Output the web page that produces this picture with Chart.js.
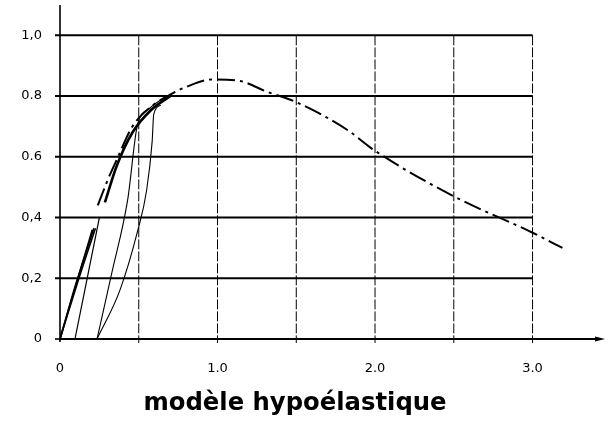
<!DOCTYPE html>
<html lang="fr">
<head>
  <meta charset="UTF-8">
  <title>modèle hypoélastique</title>
  <style>
    body {
      margin: 0;
      background: #fff;
    }
    #chart {
      display: block;
    }
  </style>
</head>
<body>
  <canvas id="chart" width="608" height="443"></canvas>

  <script src="https://cdn.jsdelivr.net/npm/chart.js"></script>
  <script>
    // tick positions and labels
    const xTickValues = [0, 1, 2, 3];
    const xTickLabels = ['0', '1.0', '2.0', '3.0'];
    const yTickValues = [0, 0.2, 0.4, 0.6, 0.8, 1.0];
    const yTickLabels = ['0', '0,2', '0,4', '0.6', '0.8', '1,0'];
    const xGridValues = [0.5, 1.0, 1.5, 2.0, 2.5, 3.0];
    const yGridValues = [0.2, 0.4, 0.6, 0.8, 1.0];

    // envelope (dash-dot)
    const envX = [0.24, 0.30, 0.36, 0.46, 0.59, 0.70, 0.80, 0.97, 1.14, 1.31, 1.50, 1.82, 2.00, 2.50, 3.00, 3.19];
    const envY = [0.44, 0.52, 0.59, 0.70, 0.77, 0.805, 0.83, 0.855, 0.85, 0.815, 0.78, 0.69, 0.62, 0.47, 0.35, 0.30];

    // first small cycles from the origin
    const cyc1aX = [0, 0.10, 0.215];
    const cyc1aY = [0, 0.18, 0.365];
    const cyc1bX = [0, 0.12, 0.225];
    const cyc1bY = [0, 0.20, 0.365];
    const cyc1cX = [0, 0.205];
    const cyc1cY = [0, 0.36];
    const cyc1dX = [0.095, 0.25];
    const cyc1dY = [0, 0.40];

    // reloading branch back onto the envelope (thick)
    const reloadX = [0.285, 0.36, 0.46, 0.58, 0.70];
    const reloadY = [0.45, 0.57, 0.68, 0.755, 0.80];

    // second cycle: straight branch and curved branch from 0.235
    const cyc2aX = [0.235, 0.33, 0.43, 0.49, 0.57, 0.68];
    const cyc2aY = [0, 0.22, 0.46, 0.70, 0.76, 0.80];
    const cyc2bX = [0.235, 0.38, 0.49, 0.55, 0.585, 0.595, 0.64];
    const cyc2bY = [0, 0.16, 0.35, 0.49, 0.65, 0.74, 0.77];

    const X_MAX = 3.46;
    const Y_MAX = 1.1;

    function pts(xs, ys) {
      return xs.map((x, i) => ({ x: x, y: ys[i] }));
    }

    function curve(xs, ys, width, tension, dash) {
      return {
        data: pts(xs, ys),
        showLine: true,
        borderColor: '#000',
        borderWidth: width,
        borderDash: dash || [],
        pointRadius: 0,
        fill: false,
        tension: tension,
        cubicInterpolationMode: 'monotone'
      };
    }

    // grid, axes and tick marks drawn only over the 0..3 / 0..1 range
    const framePlugin = {
      id: 'frame',
      beforeDatasetsDraw(chart) {
        const ctx = chart.ctx;
        const xs = chart.scales.x;
        const ys = chart.scales.y;
        const x0 = xs.getPixelForValue(0);
        const x3 = xs.getPixelForValue(3);
        const y0 = ys.getPixelForValue(0);
        const y1 = ys.getPixelForValue(1);
        ctx.save();
        ctx.strokeStyle = '#000';

        ctx.lineWidth = 2;
        yGridValues.forEach(v => {
          const y = ys.getPixelForValue(v);
          ctx.beginPath();
          ctx.moveTo(x0 - 5, y);
          ctx.lineTo(x3, y);
          ctx.stroke();
        });

        ctx.lineWidth = 1;
        ctx.setLineDash([10, 2]);
        xGridValues.forEach(v => {
          const x = xs.getPixelForValue(v);
          ctx.beginPath();
          ctx.moveTo(x, y1);
          ctx.lineTo(x, y0 + 4);
          ctx.stroke();
        });
        ctx.setLineDash([]);

        // y axis
        ctx.lineWidth = 1.6;
        ctx.beginPath();
        ctx.moveTo(x0, y0 + 3);
        ctx.lineTo(x0, ys.getPixelForValue(Y_MAX));
        ctx.stroke();
        ctx.beginPath();
        ctx.moveTo(x0 - 5, y0);
        ctx.lineTo(x0, y0);
        ctx.stroke();

        // x axis with arrow
        const xEnd = xs.getPixelForValue(X_MAX);
        ctx.lineWidth = 2;
        ctx.beginPath();
        ctx.moveTo(x0, y0);
        ctx.lineTo(xEnd - 6, y0);
        ctx.stroke();
        ctx.fillStyle = '#000';
        ctx.beginPath();
        ctx.moveTo(xEnd, y0);
        ctx.lineTo(xEnd - 10, y0 - 2.5);
        ctx.lineTo(xEnd - 10, y0 + 2.5);
        ctx.closePath();
        ctx.fill();
        ctx.restore();
      },
      afterDraw(chart) {
        const ctx = chart.ctx;
        const text = 'modèle hypoélastique';
        ctx.save();
        ctx.font = 'bold 20px "DejaVu Sans"';
        const size = 20 * 303 / ctx.measureText(text).width;
        ctx.font = 'bold ' + size.toFixed(1) + 'px "DejaVu Sans"';
        ctx.fillStyle = '#000';
        ctx.textAlign = 'center';
        ctx.textBaseline = 'middle';
        ctx.fillText(text, 295, 404);
        ctx.restore();
      }
    };

    new Chart(document.getElementById('chart'), {
      type: 'scatter',
      data: {
        datasets: [
          curve(envX, envY, 2, 0.4, [18, 5, 3, 5]),
          curve(cyc1aX, cyc1aY, 1.6, 0.3),
          curve(cyc1bX, cyc1bY, 1.6, 0.3),
          curve(cyc1cX, cyc1cY, 1.6, 0),
          curve(cyc1dX, cyc1dY, 1.2, 0),
          curve(reloadX, reloadY, 2.6, 0.4),
          curve(cyc2aX, cyc2aY, 1.1, 0.4),
          curve(cyc2bX, cyc2bY, 1.1, 0.4)
        ]
      },
      options: {
        responsive: false,
        animation: false,
        layout: { padding: { left: 0, right: 3, top: 5, bottom: 0 } },
        plugins: {
          legend: { display: false },
          tooltip: { enabled: false }
        },
        scales: {
          x: {
            type: 'linear',
            min: 0,
            max: X_MAX,
            grid: { display: false, drawTicks: false },
            border: { display: false },
            afterBuildTicks: s => { s.ticks = xTickValues.map(v => ({ value: v })); },
            afterFit: s => { s.height = 104; },
            ticks: {
              padding: 22,
              color: '#000',
              maxRotation: 0,
              font: { family: 'DejaVu Sans', size: 13 },
              callback: v => xTickLabels[xTickValues.indexOf(v)]
            }
          },
          y: {
            type: 'linear',
            min: 0,
            max: Y_MAX,
            grid: { display: false, drawTicks: false },
            border: { display: false },
            afterBuildTicks: s => { s.ticks = yTickValues.map(v => ({ value: v })); },
            afterFit: s => {
              s.width = 60;
              s.paddingTop = 0;
              s.paddingBottom = 0;
            },
            ticks: {
              padding: 18,
              color: '#000',
              font: { family: 'DejaVu Sans', size: 13 },
              callback: v => yTickLabels[yTickValues.findIndex(t => Math.abs(t - v) < 1e-9)]
            }
          }
        }
      },
      plugins: [framePlugin]
    });
  </script>
</body>
</html>
